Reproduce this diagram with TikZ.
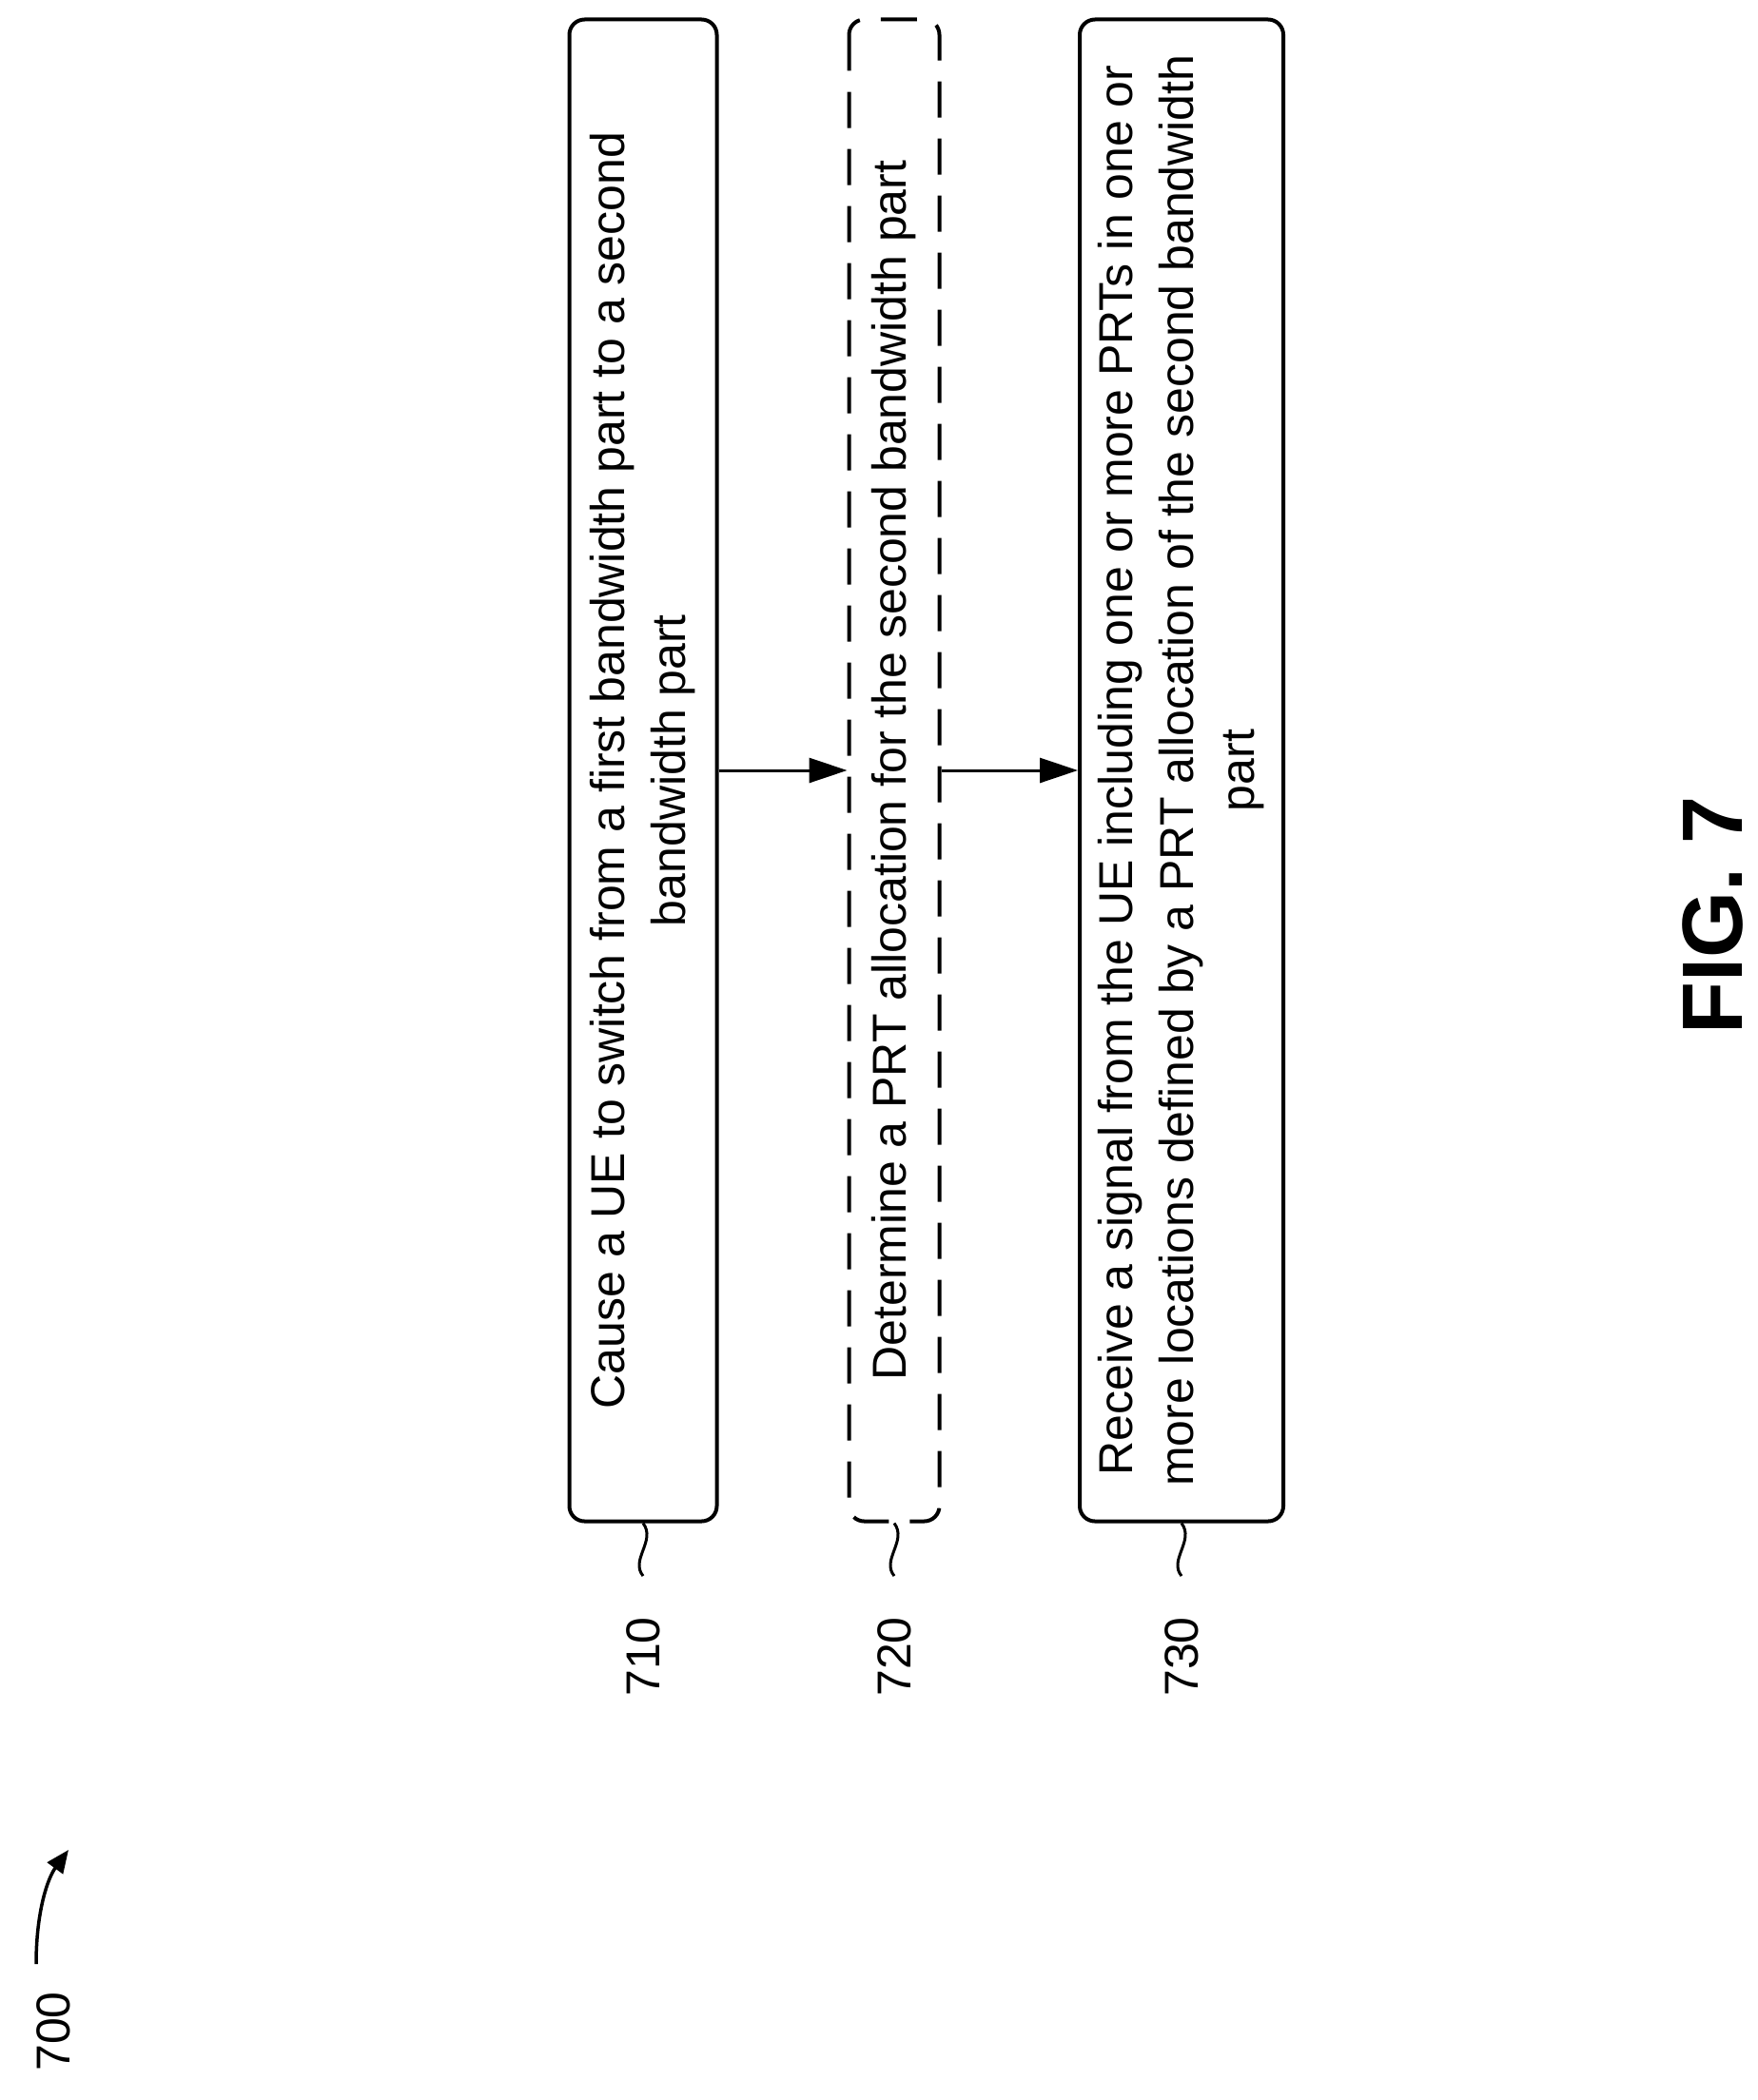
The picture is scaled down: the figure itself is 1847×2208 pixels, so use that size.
\documentclass[tikz,border=0pt]{standalone}
\usepackage{fontspec}
\setmainfont{Liberation Sans}
\usetikzlibrary{arrows.meta}
\begin{document}
\begin{tikzpicture}[x=1pt,y=-1pt,
  box/.style={draw,line width=4pt,rounded corners=16pt,minimum width=1579pt,align=center,rotate=90,inner sep=0pt,font=\fontsize{50}{64}\selectfont},
  lbl/.style={rotate=90,font=\fontsize{50}{56}\selectfont},
  arr/.style={line width=3pt,-{Triangle[length=40pt,width=26pt]}},
  sq/.style={line width=3pt}]
\useasboundingbox (0,0) rectangle (1847,2208);
\node[box,minimum height=155pt] (b1) at (676,810) {Cause a UE to switch from a first bandwidth part to a second\\bandwidth part};
\node[box,minimum height=95pt,dashed,dash pattern=on 38pt off 22pt] (b2) at (940,810) {Determine a PRT allocation for the second bandwidth part};
\node[box,minimum height=214pt] (b3) at (1242,810) {Receive a signal from the UE including one or more PRTs in one or\\more locations defined by a PRT allocation of the second bandwidth\\part};
\draw[arr] (b1.south) -- (b2.north);
\draw[arr] (b2.south) -- (b3.north);
\foreach \n/\x/\t in {b1/676/710,b2/940/720,b3/1242/730}{
  \coordinate (s\n) at (\x,1657);
  \draw[sq] (\n.west) .. controls (\x+14,1620) and (\x-14,1640) .. (s\n);
  \node[lbl] (l\n) at (\x,1742) {\t};
}
\node[lbl] (l700) at (56,2136) {700};
\coordinate (a0) at (38,2065);
\coordinate (a1) at (72,1945);
\draw[line width=3.5pt,-{Triangle[length=24pt,width=20pt]}] (a0) .. controls (38,2010) and (50,1975) .. (a1);
\node[rotate=90,font=\bfseries\fontsize{90}{100}\selectfont] (fig) at (1800,962) {FIG. 7};
\end{tikzpicture}
\end{document}
